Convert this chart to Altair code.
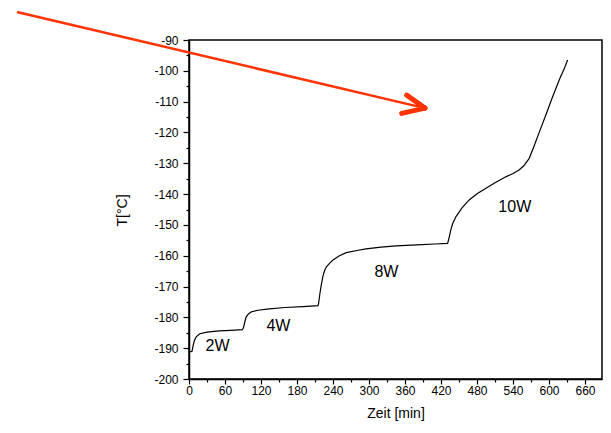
import altair as alt
import pandas as pd

# Measured curve (time in min, temperature in °C)
time_min = [2, 5, 7, 9, 12, 18, 30, 50, 70, 89,
            91, 93, 95, 99, 104, 115, 130, 160, 190, 215,
            216, 218, 220, 223, 226, 229, 235, 240, 250, 262, 280, 295, 320, 345, 380, 410, 431,
            433, 435, 437, 440, 445, 455, 467, 480, 495, 510, 528, 540, 550, 558, 567, 575,
            583, 595, 606, 618, 626, 631]
temp_c = [-191.2, -191.0, -189.0, -187.5, -186.3, -185.3, -184.8, -184.4, -184.2, -184.0,
          -183.2, -181.5, -180.0, -178.9, -178.2, -177.7, -177.3, -176.8, -176.5, -176.2,
          -175.5, -172.5, -170.0, -166.8, -164.8, -163.6, -162.3, -161.4, -160.1, -159.0, -158.3,
          -157.8, -157.2, -156.8, -156.5, -156.2, -156.0,
          -154.5, -152.8, -151.1, -149.3, -147.3, -144.5, -141.9, -139.9, -138.1, -136.3, -134.4,
          -133.3, -132.2, -130.8, -128.4, -124.5, -120.3, -114.2, -108.4, -102.5, -99.0, -96.5]

# Heating power labels
label_text = ["2W", "4W", "8W", "10W"]
label_t = [47.5, 149, 329, 543]
label_T = [-189.3, -182.8, -165.3, -144.1]

# Red annotation arrow (shaft and two head strokes), in data units
arrow_t1 = [-285, 393.3, 393.3]
arrow_T1 = [-81.0, -112.1, -112.1]
arrow_t2 = [393.3, 362.8, 354.5]
arrow_T2 = [-112.1, -107.9, -113.8]
arrow_w = [2.5, 5, 5]

x_ticks = list(range(0, 661, 30))
y_ticks = list(range(-200, -89, 5))

curve = pd.DataFrame({"t": time_min, "T": temp_c})
labels = pd.DataFrame({"t": label_t, "T": label_T, "txt": label_text})
arrow = pd.DataFrame({"t": arrow_t1, "T": arrow_T1, "t2": arrow_t2, "T2": arrow_T2, "w": arrow_w})

FONT = "Liberation Sans"

xscale = alt.Scale(domain=[0, 688.3], nice=False, zero=False)
yscale = alt.Scale(domain=[-200, -90], nice=False, zero=False)

xaxis = alt.Axis(
    values=x_ticks,
    labelExpr="datum.value % 60 === 0 ? '' + datum.value : ''",
    tickSize={"condition": {"test": "datum.value % 60 === 0", "value": 5}, "value": 3},
    title="Zeit [min]", titleY=38, titleBaseline="alphabetic", labelPadding=1,
)
yaxis = alt.Axis(
    values=y_ticks,
    labelExpr="datum.value % 10 === 0 ? '' + datum.value : ''",
    tickSize={"condition": {"test": "datum.value % 10 === 0", "value": 6}, "value": 3},
    title="T[°C]", titleX=-67, titleY=170, titleAngle=-90,
    titleAlign="center", titleBaseline="middle", labelPadding=5,
)

X = alt.X("t:Q", scale=xscale, axis=xaxis)
Y = alt.Y("T:Q", scale=yscale, axis=yaxis)

line = alt.Chart(curve).mark_line(color="black", strokeWidth=1.2).encode(x=X, y=Y)

text = alt.Chart(labels).mark_text(font=FONT, fontSize=16, color="black").encode(
    x=X, y=Y, text="txt:N"
)

arrows = alt.Chart(arrow).mark_rule(color="#ff3300", strokeCap="round", clip=False).encode(
    x=X, y=Y, x2="t2:Q", y2="T2:Q",
    strokeWidth=alt.StrokeWidth("w:Q", scale=None, legend=None),
)

chart = alt.layer(line, text, arrows).properties(
    width=413, height=339,
    autosize=alt.AutoSizeParams(type="none"),
    padding={"left": 181, "top": 32, "right": 1, "bottom": 46},
).configure_view(
    stroke="black", strokeWidth=1.5
).configure_axis(
    labelOverlap=False, labelFlush=False, grid=False,
    labelFont=FONT, labelFontSize=12, labelColor="black",
    tickColor="black", tickWidth=1.2, domainColor="black", domainWidth=1.5,
    titleFont=FONT, titleFontSize=14, titleFontWeight="normal", titleColor="black",
)

chart.save("out.html", embed_options={"renderer": "svg", "actions": False})
